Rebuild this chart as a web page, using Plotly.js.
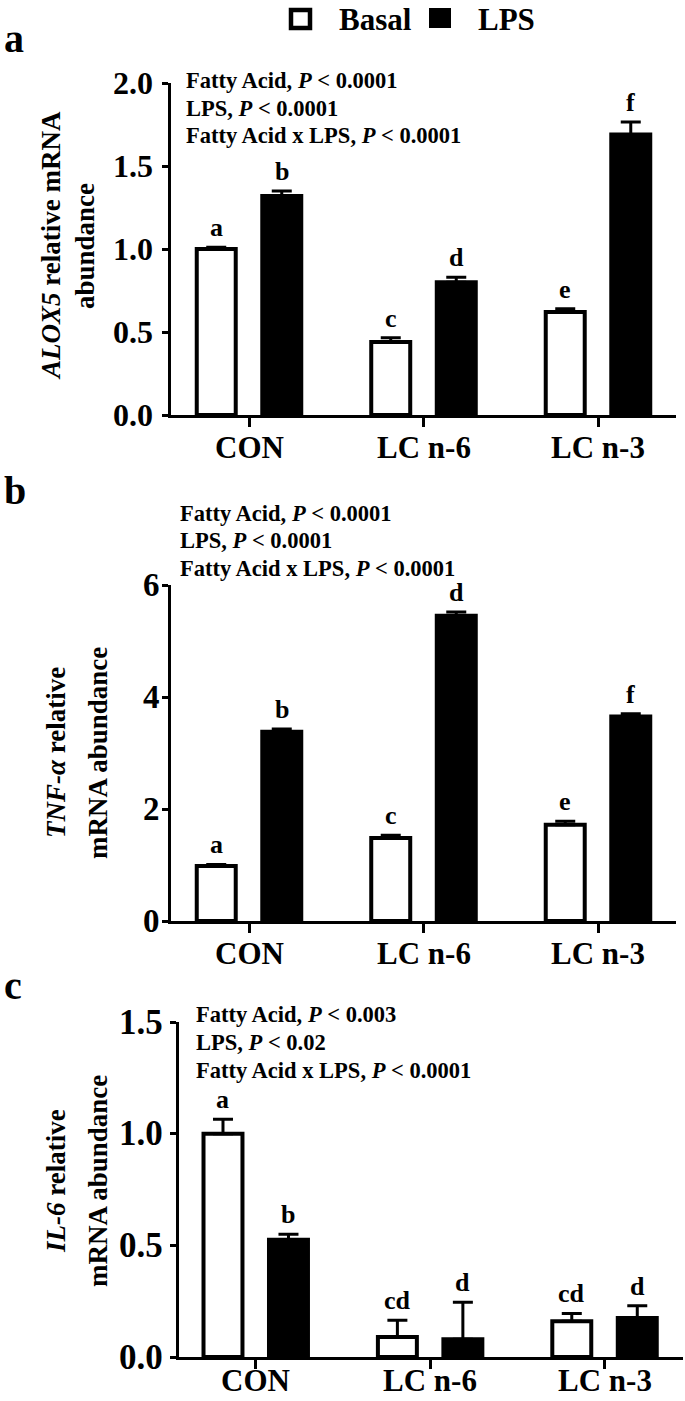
<!DOCTYPE html>
<html><head><meta charset="utf-8">
<script src="https://cdn.plot.ly/plotly-3.0.1.min.js"></script>
<style>html,body{margin:0;padding:0;background:#fff}</style>
</head><body><div id="chart" style="width:685px;height:1401px"></div>
<script>
// ---- data ----
const categories = ['CON', 'LC n-6', 'LC n-3'];
const seriesNames = ['Basal', 'LPS'];

const aloxBasal = [1.00, 0.44, 0.62];
const aloxBasalErr = [0.01, 0.025, 0.02];
const aloxLPS = [1.32, 0.80, 1.69];
const aloxLPSErr = [0.03, 0.03, 0.075];
const aloxBasalLetters = ['a', 'c', 'e'];
const aloxLPSLetters = ['b', 'd', 'f'];
const aloxTicks = [0, 0.5, 1.0, 1.5, 2.0];
const aloxTickText = ['0.0', '0.5', '1.0', '1.5', '2.0'];

const tnfBasal = [0.98, 1.48, 1.72];
const tnfBasalErr = [0.03, 0.05, 0.06];
const tnfLPS = [3.38, 5.45, 3.65];
const tnfLPSErr = [0.05, 0.07, 0.05];
const tnfBasalLetters = ['a', 'c', 'e'];
const tnfLPSLetters = ['b', 'd', 'f'];
const tnfTicks = [0, 2, 4, 6];
const tnfTickText = ['0', '2', '4', '6'];

const il6Basal = [1.00, 0.09, 0.16];
const il6BasalErr = [0.065, 0.075, 0.035];
const il6LPS = [0.525, 0.08, 0.175];
const il6LPSErr = [0.025, 0.165, 0.055];
const il6BasalLetters = ['a', 'cd', 'cd'];
const il6LPSLetters = ['b', 'd', 'd'];
const il6Ticks = [0, 0.5, 1.0, 1.5];
const il6TickText = ['0.0', '0.5', '1.0', '1.5'];

const statsA = ['Fatty Acid, <i>P</i> < 0.0001', 'LPS, <i>P</i> < 0.0001', 'Fatty Acid x LPS, <i>P</i> < 0.0001'];
const statsB = ['Fatty Acid, <i>P</i> < 0.0001', 'LPS, <i>P</i> < 0.0001', 'Fatty Acid x LPS, <i>P</i> < 0.0001'];
const statsC = ['Fatty Acid, <i>P</i> < 0.003', 'LPS, <i>P</i> < 0.02', 'Fatty Acid x LPS, <i>P</i> < 0.0001'];

const titleA = ['<i>ALOX5</i> relative mRNA', 'abundance'];
const titleB = ['<i>TNF-α</i> relative', 'mRNA abundance'];
const titleC = ['<i>IL-6</i> relative', 'mRNA abundance'];

// ---- helpers ----
const W = 685, H = 1401;
const FAM = '"Liberation Serif", "Times New Roman", serif';
const px = x => x / W;
const py = y => 1 - y / H;
const bfont = (size) => ({family: FAM, size: size, color: '#000', weight: 'bold'});

const traces = [];
function addPanel(xa, ya, basal, basalErr, lps, lpsErr) {
  const common = {type: 'bar', x: categories, xaxis: xa, yaxis: ya, hoverinfo: 'skip', showlegend: false};
  traces.push(Object.assign({}, common, {
    name: seriesNames[0], y: basal,
    marker: {color: '#ffffff', line: {color: '#000', width: 4}},
    error_y: {type: 'data', array: basalErr, arrayminus: basalErr.map(() => 0), symmetric: false, color: '#000', thickness: 3, width: 10}
  }));
  traces.push(Object.assign({}, common, {
    name: seriesNames[1], y: lps,
    marker: {color: '#000000', line: {color: '#000', width: 4}},
    error_y: {type: 'data', array: lpsErr, arrayminus: lpsErr.map(() => 0), symmetric: false, color: '#000', thickness: 3, width: 10}
  }));
}
addPanel('x', 'y', aloxBasal, aloxBasalErr, aloxLPS, aloxLPSErr);
addPanel('x2', 'y2', tnfBasal, tnfBasalErr, tnfLPS, tnfLPSErr);
addPanel('x3', 'y3', il6Basal, il6BasalErr, il6LPS, il6LPSErr);

const annotations = [];
const shapes = [];
function letters(xr, yr, vals, errs, labs, shift) {
  for (let i = 0; i < categories.length; i++) {
    annotations.push({xref: xr, yref: yr, x: categories[i], y: vals[i] + errs[i], xshift: shift, yshift: 3,
      text: labs[i], showarrow: false, xanchor: 'center', yanchor: 'bottom', font: bfont(26)});
  }
}
letters('x', 'y', aloxBasal, aloxBasalErr, aloxBasalLetters, -32.75);
letters('x', 'y', aloxLPS, aloxLPSErr, aloxLPSLetters, 32.75);
letters('x2', 'y2', tnfBasal, tnfBasalErr, tnfBasalLetters, -32.75);
letters('x2', 'y2', tnfLPS, tnfLPSErr, tnfLPSLetters, 32.75);
letters('x3', 'y3', il6Basal, il6BasalErr, il6BasalLetters, -32.75);
letters('x3', 'y3', il6LPS, il6LPSErr, il6LPSLetters, 32.75);

// category labels under each x axis
function xlabels(xr, yr, shiftPx, size) {
  categories.forEach(c => annotations.push({xref: xr, yref: yr, x: c, y: 0, yshift: -shiftPx,
    text: c, showarrow: false, xanchor: 'center', yanchor: 'middle', font: bfont(size)}));
}
xlabels('x', 'y', 33, 31);
xlabels('x2', 'y2', 32, 31);
// bottom panel: keep the label box inside the page
categories.forEach(c => annotations.push({xref: 'x3', yref: 'paper', x: c, y: py(1400),
  text: c, showarrow: false, xanchor: 'center', yanchor: 'bottom', font: bfont(31)}));

// y tick labels, right-aligned at a given pixel column
function ylabels(yr, vals, texts, rightPx, size) {
  vals.forEach((v, i) => annotations.push({xref: 'paper', yref: yr, x: px(rightPx), y: v,
    text: texts[i], showarrow: false, xanchor: 'right', yanchor: 'middle', font: bfont(size)}));
}
ylabels('y', aloxTicks, aloxTickText, 155, 32);
ylabels('y2', tnfTicks, tnfTickText, 162, 33);
ylabels('y3', il6Ticks, il6TickText, 165, 35);

function stats(lines, xLeft, mids) {
  lines.forEach((t, i) => annotations.push({xref: 'paper', yref: 'paper', x: px(xLeft), y: py(mids[i]),
    text: t, showarrow: false, xanchor: 'left', yanchor: 'middle', font: bfont(22.5)}));
}
stats(statsA, 184, [81, 108, 135]);
stats(statsB, 178, [513, 541, 568]);
stats(statsC, 194, [1015, 1042, 1070]);

function ytitle(lines, xs, yc) {
  lines.forEach((t, i) => annotations.push({xref: 'paper', yref: 'paper', x: px(xs[i]), y: py(yc),
    text: t, showarrow: false, textangle: -90, xanchor: 'center', yanchor: 'middle', font: bfont(27)}));
}
ytitle(titleA, [51, 85], 246);
ytitle(titleB, [56, 98], 753);
ytitle(titleC, [56, 98], 1181);

// panel letters
[['a', 38], ['b', 490], ['c', 985]].forEach(([t, y]) => annotations.push({xref: 'paper', yref: 'paper',
  x: px(2), y: py(y), text: t, showarrow: false, xanchor: 'left', yanchor: 'middle', font: bfont(40)}));

// legend (custom, drawn in paper space)
shapes.push({type: 'rect', xref: 'paper', yref: 'paper', x0: px(291), x1: px(310), y0: py(28), y1: py(10),
  fillcolor: '#fff', line: {color: '#000', width: 4.5}});
shapes.push({type: 'rect', xref: 'paper', yref: 'paper', x0: px(429), x1: px(451), y0: py(28), y1: py(8),
  fillcolor: '#000', line: {color: '#000', width: 0}});
annotations.push({xref: 'paper', yref: 'paper', x: px(337), y: 1, text: seriesNames[0], showarrow: false,
  xanchor: 'left', yanchor: 'top', font: bfont(31)});
annotations.push({xref: 'paper', yref: 'paper', x: px(476), y: 1, text: seriesNames[1], showarrow: false,
  xanchor: 'left', yanchor: 'top', font: bfont(31)});

function xax(domain, range, anchor) {
  return {domain: domain, range: range, type: 'category', showline: true, linewidth: 3, linecolor: '#000',
    ticks: 'outside', ticklen: 9, tickwidth: 3, tickcolor: '#000', showgrid: false, zeroline: false,
    showticklabels: false, anchor: anchor, fixedrange: true};
}
function yax(domain, range, tickvals, anchor) {
  return {domain: domain, range: range, tickmode: 'array', tickvals: tickvals, showline: true, linewidth: 3,
    linecolor: '#000', ticks: 'outside', ticklen: 6, tickwidth: 3, tickcolor: '#000', showgrid: false,
    zeroline: false, showticklabels: false, anchor: anchor, fixedrange: true};
}

const layout = {
  width: W, height: H, margin: {l: 0, r: 0, t: 0, b: 0}, paper_bgcolor: '#fff', plot_bgcolor: '#fff',
  barmode: 'group', bargap: 0.249, bargroupgap: 0.405, showlegend: false,
  font: {family: FAM, color: '#000'},
  xaxis: xax([px(171), px(676)], [-0.447, 2.447], 'y'),
  yaxis: yax([py(415), py(83)], [0, 2], aloxTicks, 'x'),
  xaxis2: xax([px(171), px(676)], [-0.447, 2.447], 'y2'),
  yaxis2: yax([py(921), py(585)], [0, 6], tnfTicks, 'x2'),
  xaxis3: xax([px(179), px(683)], [-0.44, 2.45], 'y3'),
  yaxis3: yax([py(1357), py(1022)], [0, 1.5], il6Ticks, 'x3'),
  annotations: annotations, shapes: shapes
};

Plotly.newPlot('chart', traces, layout, {staticPlot: true, displayModeBar: false});
</script></body></html>
